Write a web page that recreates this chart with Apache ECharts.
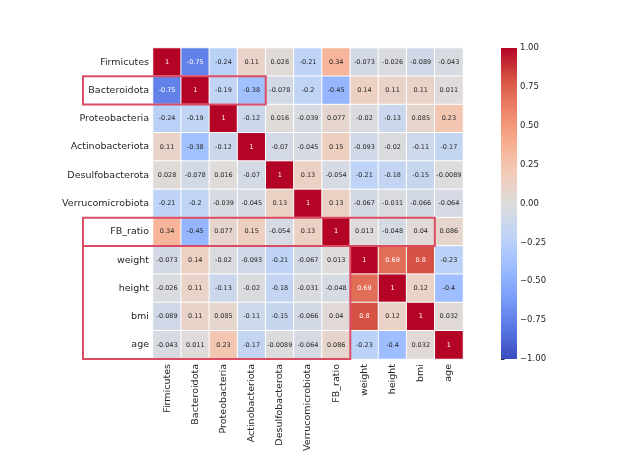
<!DOCTYPE html>
<html><head><meta charset="utf-8">
<script src="https://cdn.jsdelivr.net/npm/echarts@6/dist/echarts.min.js"></script>
<style>html,body{margin:0;padding:0;background:#fff}#c{width:642px;height:463px}</style>
</head><body><div id="c"></div>
<script>
const categories = ['Firmicutes','Bacteroidota','Proteobacteria','Actinobacteriota','Desulfobacterota','Verrucomicrobiota','FB_ratio','weight','height','bmi','age'];
const rowFirmicutes        = [1, -0.75, -0.24, 0.11, 0.028, -0.21, 0.34, -0.073, -0.026, -0.089, -0.043];
const rowBacteroidota      = [-0.75, 1, -0.19, -0.38, -0.078, -0.2, -0.45, 0.14, 0.11, 0.11, 0.011];
const rowProteobacteria    = [-0.24, -0.19, 1, -0.12, 0.016, -0.039, 0.077, -0.02, -0.13, 0.085, 0.23];
const rowActinobacteriota  = [0.11, -0.38, -0.12, 1, -0.07, -0.045, 0.15, -0.093, -0.02, -0.11, -0.17];
const rowDesulfobacterota  = [0.028, -0.078, 0.016, -0.07, 1, 0.13, -0.054, -0.21, -0.18, -0.15, -0.0089];
const rowVerrucomicrobiota = [-0.21, -0.2, -0.039, -0.045, 0.13, 1, 0.13, -0.067, -0.031, -0.066, -0.064];
const rowFB_ratio          = [0.34, -0.45, 0.077, 0.15, -0.054, 0.13, 1, 0.013, -0.048, 0.04, 0.086];
const rowWeight            = [-0.073, 0.14, -0.02, -0.093, -0.21, -0.067, 0.013, 1, 0.69, 0.8, -0.23];
const rowHeight            = [-0.026, 0.11, -0.13, -0.02, -0.18, -0.031, -0.048, 0.69, 1, 0.12, -0.4];
const rowBmi               = [-0.089, 0.11, 0.085, -0.11, -0.15, -0.066, 0.04, 0.8, 0.12, 1, 0.032];
const rowAge               = [-0.043, 0.011, 0.23, -0.17, -0.0089, -0.064, 0.086, -0.23, -0.4, 0.032, 1];
const matrix = [rowFirmicutes,rowBacteroidota,rowProteobacteria,rowActinobacteriota,rowDesulfobacterota,rowVerrucomicrobiota,rowFB_ratio,rowWeight,rowHeight,rowBmi,rowAge];
const colorbarRange = [-1, 1];

const coolwarm = ['#3b4cc0','#5977e3','#7b9ff9','#9ebeff','#c0d4f5','#dddcdc','#f2cbb7','#f7ac8e','#ee8468','#d65244','#b40426'];
const font = 'DejaVu Sans';

const data = [];
matrix.forEach((row, r) => row.forEach((v, c) => {
  data.push({value: [c, r, v], label: {color: Math.abs(v) >= 0.6 ? '#ffffff' : '#262626'}});
}));

const G = {left: 153, top: 48, width: 310, height: 311};
const chart = echarts.init(document.getElementById('c'), null, {renderer: 'canvas'});
chart.setOption({
  backgroundColor: '#ffffff',
  animation: false,
  grid: [
    {left: G.left, top: G.top, width: G.width, height: G.height},
    {left: 501, top: G.top, width: 16, height: G.height}
  ],
  xAxis: [
    {type: 'category', data: categories, gridIndex: 0, position: 'bottom',
     axisLine: {show: false}, axisTick: {show: false}, splitLine: {show: false},
     axisLabel: {rotate: 90, margin: 5, fontFamily: font, fontSize: 9.5, color: '#262626', interval: 0}},
    {type: 'value', gridIndex: 1, show: false, min: 0, max: 1}
  ],
  yAxis: [
    {type: 'category', data: categories, gridIndex: 0, inverse: true,
     axisLine: {show: false}, axisTick: {show: false}, splitLine: {show: false},
     axisLabel: {margin: 4, fontFamily: font, fontSize: 9.5, color: '#262626', interval: 0}},
    {type: 'value', gridIndex: 1, min: -1, max: 1, interval: 0.25, position: 'right',
     axisLine: {show: false}, splitLine: {show: false},
     axisTick: {show: true, length: 3.5, lineStyle: {color: '#333'}},
     axisLabel: {margin: 3, fontFamily: font, fontSize: 8.5, color: '#262626',
       formatter: v => (v < 0 ? '\u2212' : '') + Math.abs(v).toFixed(2)}}
  ],
  visualMap: {
    type: 'continuous', min: -1, max: 1, seriesIndex: 0, show: false,
    inRange: {color: coolwarm}
  },
  series: [
    {type: 'heatmap', xAxisIndex: 0, yAxisIndex: 0, data: data,
     itemStyle: {borderColor: '#ffffff', borderWidth: 1},
     label: {show: true, fontFamily: font, fontSize: 6.5, formatter: p => String(p.value[2])},
     emphasis: {disabled: true}},
    {type: 'custom', xAxisIndex: 1, yAxisIndex: 1, silent: true,
     data: [[0, colorbarRange[0], 1, colorbarRange[1]]],
     renderItem: (params, api) => {
       const p0 = api.coord([api.value(0), api.value(1)]);
       const p1 = api.coord([api.value(2), api.value(3)]);
       const stops = coolwarm.map((c, i) => ({offset: 1 - i / (coolwarm.length - 1), color: c}));
       stops.reverse();
       return {type: 'rect',
         shape: {x: p0[0], y: p1[1], width: p1[0] - p0[0], height: p0[1] - p1[1]},
         style: {fill: new echarts.graphic.LinearGradient(0, 0, 0, 1, stops)}};
     }}
  ]
});

// highlight boxes computed from the category scale
const cw = G.width / categories.length, ch = G.height / categories.length;
function edge(col, row) { return chart.convertToPixel({gridIndex: 0}, [col, row]); }
function box(lastCol, firstRow, lastRow) {
  const a = edge(categories[lastCol], categories[firstRow]);
  const b = edge(categories[lastCol], categories[lastRow]);
  const x0 = 83, x1 = a[0] + cw / 2, y0 = a[1] - ch / 2, y1 = b[1] + ch / 2;
  return {type: 'rect', shape: {x: x0, y: y0, width: x1 - x0, height: y1 - y0},
          style: {fill: 'none', stroke: '#dc4b64', lineWidth: 2}, z: 100};
}
chart.setOption({graphic: [box(3, 1, 1), box(9, 6, 6), box(6, 7, 10)]});
</script></body></html>
